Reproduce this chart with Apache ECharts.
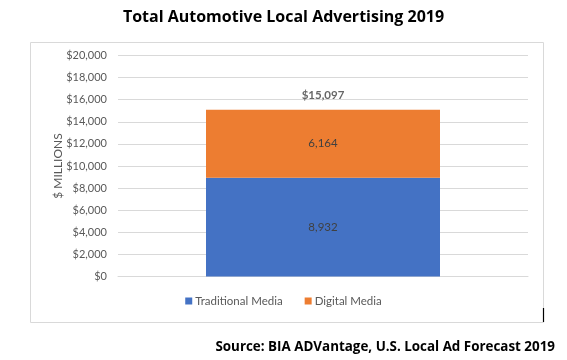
<!DOCTYPE html>
<html>
<head>
<meta charset="utf-8">
<script src="https://cdn.jsdelivr.net/npm/echarts@6/dist/echarts.min.js"></script>
<style>
html,body{margin:0;padding:0;background:#fff;}
#main{width:567px;height:360px;}
</style>
</head>
<body>
<div id="main"></div>
<script>
const categories = ['2019'];
const traditional = [8932];
const digital = [6164];
const totals = [15097];
const seriesNames = ['Traditional Media', 'Digital Media'];
const yTicks = [0, 2000, 4000, 6000, 8000, 10000, 12000, 14000, 16000, 18000, 20000];

const fmt = v => v.toLocaleString('en-US');
const chart = echarts.init(document.getElementById('main'));
const labelFont = 'Lato, "Noto Sans", sans-serif';
chart.setOption({
  animation: false,
  title: {
    text: 'Total Automotive Local Advertising 2019',
    left: 'center', top: 4,
    textStyle: { fontFamily: '"Open Sans", sans-serif', fontWeight: 'bold', fontSize: 16, color: '#000' }
  },
  graphic: [
    { type: 'rect', shape: { x: 30.5, y: 42.5, width: 513, height: 280 }, style: { fill: 'none', stroke: '#d9d9d9', lineWidth: 1 }, z: -1 },
    { type: 'line', shape: { x1: 543.5, y1: 308, x2: 543.5, y2: 322 }, style: { stroke: '#000', lineWidth: 1.2 } },
    { type: 'text', right: 12, top: 341, style: { text: 'Source: BIA ADVantage, U.S. Local Ad Forecast 2019', font: 'bold 13.4px "Open Sans", sans-serif', fill: '#000' } }
  ],
  legend: {
    data: seriesNames,
    bottom: 48, left: 'center',
    itemWidth: 7, itemHeight: 7, itemGap: 22,
    icon: 'rect',
    textStyle: { fontFamily: labelFont, fontSize: 11.5, color: '#595959', padding: [0, 0, 0, -2] }
  },
  grid: { left: 118, right: 39, top: 55.5, bottom: 83.5 },
  xAxis: {
    type: 'category', data: categories,
    axisLine: { lineStyle: { color: '#d9d9d9' } },
    axisTick: { show: false }, axisLabel: { show: false }
  },
  yAxis: {
    type: 'value', min: yTicks[0], max: yTicks[yTicks.length - 1], interval: 2000,
    name: '$ MILLIONS', nameLocation: 'middle', nameGap: 54, nameRotate: 90, nameMoveOverlap: false,
    nameTextStyle: { fontFamily: labelFont, fontSize: 12, color: '#595959' },
    axisLine: { show: false }, axisTick: { show: false },
    axisLabel: { formatter: v => '$' + fmt(v), fontFamily: labelFont, fontSize: 11, color: '#595959', margin: 11 },
    splitLine: { lineStyle: { color: '#d9d9d9' } }
  },
  series: [
    { name: seriesNames[0], type: 'bar', stack: 's', data: traditional, barWidth: 234,
      itemStyle: { color: '#4472c4' },
      label: { show: true, position: 'inside', formatter: p => fmt(p.value), fontFamily: labelFont, fontSize: 11.5, color: '#404040' } },
    { name: seriesNames[1], type: 'bar', stack: 's', data: digital, barWidth: 234,
      itemStyle: { color: '#ed7d31' },
      label: { show: true, position: 'inside', formatter: p => fmt(p.value), fontFamily: labelFont, fontSize: 11.5, color: '#404040' } },
    { name: 'Total', type: 'scatter', data: totals, symbolSize: 0, silent: true,
      label: { show: true, position: 'top', distance: 8, formatter: p => '$' + fmt(p.value), fontFamily: labelFont, fontWeight: 'bold', fontSize: 11.5, color: '#404040' } }
  ]
});
</script>
</body>
</html>
